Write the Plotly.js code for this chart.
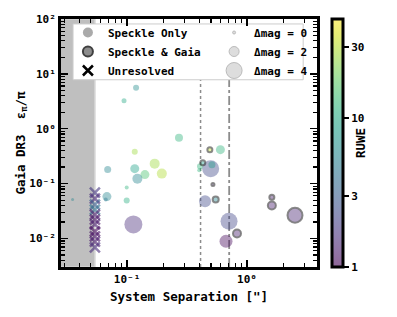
<!DOCTYPE html>
<html><head><meta charset="utf-8">
<script src="https://cdn.plot.ly/plotly-3.0.1.min.js"></script>
<style>html,body{margin:0;padding:0;background:#fff}#chart{width:397px;height:317px}</style>
</head><body><div id="chart"></div>
<script>
// ---- Speckle-only companions ----
const soSep  = [0.119, 0.0944, 0.116, 0.271, 0.069, 0.116, 0.170, 0.195, 0.141, 0.122, 0.0994, 0.0994, 0.068, 0.0665, 0.113, 0.0352, 0.60, 0.406, 0.40, 0.498, 0.51, 0.447, 0.708, 0.668];
const soErr  = [5.56, 3.23, 0.382, 0.686, 0.18, 0.187, 0.231, 0.152, 0.146, 0.123, 0.0846, 0.049, 0.058, 0.0512, 0.018, 0.0512, 0.415, 0.206, 0.175, 0.187, 0.221, 0.0477, 0.0206, 0.0089];
const soRuwe = [6.3, 10, 26, 12, 5.6, 9, 26, 29, 15, 5.6, 12, 11, 5.6, 4.6, 1.6, 5.6, 12, 12, 12, 2.3, 8, 2.3, 2.2, 1.08];
const soDmag = [0.86, 0.57, 0.86, 1.43, 1.14, 1.71, 2.0, 2.0, 1.71, 2.0, 0.29, 0.86, 1.71, 0.29, 3.6, 0.0, 1.71, 0.86, 0.29, 3.4, 1.14, 2.4, 3.4, 2.6];

// ---- Speckle & Gaia companions ----
const sgSep  = [0.49, 0.428, 0.52, 0.548, 0.825, 1.61, 1.61, 2.51];
const sgErr  = [0.415, 0.241, 0.096, 0.0512, 0.0123, 0.0564, 0.0398, 0.0265];
const sgRuwe = [32, 8, 1.5, 5.6, 1.35, 1.35, 1.35, 1.45];
const sgDmag = [0.57, 0.57, 0.0, 0.86, 1.43, 0.57, 1.43, 3.0];

// ---- Unresolved ----
const unSep  = [0.054, 0.054, 0.054, 0.054, 0.054, 0.054, 0.054, 0.054, 0.054, 0.054, 0.054];
const unErr  = [0.0686, 0.0534, 0.0415, 0.0337, 0.0273, 0.0221, 0.018, 0.0134, 0.0109, 0.0088, 0.00686];
const unRuwe = [1.8, 1.5, 3.0, 4.0, 1.3, 1.2, 1.3, 1.1, 1.2, 1.3, 1.6];

// ---- Reference lines / limits ----
const resolutionLimit = 0.054;
const refLineSeps = [0.41, 0.71];
const ruweMax = 46.5;

// ---- Legend / ticks ----
const dmagKey = [0, 2, 4];
const cbMajor = [1, 3, 10, 30];
const cbMinor = [2, 4, 5, 6, 7, 8, 9, 20, 40];
const xTickVals = [0.1, 1];
const xTickText = ['10⁻¹', '10⁰'];
const yTickVals = [0.01, 0.1, 1, 10, 100];
const yTickText = ['10⁻²', '10⁻¹', '10⁰', '10¹', '10²'];

const xRange = [-1.55, 0.583];
const yRange = [-2.52, 2];

const viridis = ['#440154','#48186a','#472d7b','#424086','#3b528b','#33638d','#2c728e','#26828e','#21918c','#1fa088','#28ae80','#3fbc73','#5ec962','#84d44b','#addc30','#d8e219','#fde725'];
const alpha = 0.6;
const cscale = viridis.map((c, i) => {
  const r = parseInt(c.slice(1,3),16), g = parseInt(c.slice(3,5),16), b = parseInt(c.slice(5,7),16);
  return [i/(viridis.length-1), `rgba(${r},${g},${b},${alpha})`];
});
const cmin = 0, cmax = Math.log10(ruweMax);

function sizeOf(dm) { // marker diameter scale for delta-mag
  return dm <= 2 ? 3 + dm * 3.5 : 10 + (dm - 2) * 5;
}
const lg = v => v.map(Math.log10);

const minorTicks = (lo, hi) => { const t = []; for (let k = lo; k <= hi; k++) for (let d = 2; d <= 9; d++) t.push(d * Math.pow(10, k)); return t; };

const cbBase = { x:1.058, xanchor:'left', xpad:0, y:0.5, yanchor:'middle', len:1, lenmode:'fraction', ypad:0,
  thickness:11, outlinewidth:3, outlinecolor:'black', tickmode:'array', ticks:'outside', tickcolor:'black' };

const traces = [
  { type:'scatter', mode:'markers', x: [], y: [], showlegend:false, hoverinfo:'skip',
    marker:{ color: [], colorscale: cscale, cmin, cmax, showscale:true,
      colorbar: Object.assign({}, cbBase, { tickvals: lg(cbMinor), ticklen:3, tickwidth:1.2, showticklabels:false }) } },
  { type:'scatter', mode:'markers', x: soSep, y: soErr, showlegend:false, hoverinfo:'skip',
    marker:{ size: soDmag.map(sizeOf), color: lg(soRuwe), colorscale: cscale, cmin, cmax, line:{width:0},
      showscale:true,
      colorbar: Object.assign({}, cbBase, { tickvals: lg(cbMajor), ticktext: cbMajor.map(String),
        ticklen:5, tickwidth:2, tickfont:{size:11},
        title:{ text:'RUWE', side:'right', font:{size:12.5} } }) } },
  { type:'scatter', mode:'markers', x: sgSep, y: sgErr, showlegend:false, hoverinfo:'skip',
    marker:{ size: sgDmag.map(sizeOf), color: lg(sgRuwe), colorscale: cscale, cmin, cmax, showscale:false,
      line:{ width:2, color:'rgba(60,60,60,0.85)' } } },
  { type:'scatter', mode:'markers', x: unSep, y: unErr, showlegend:false, hoverinfo:'skip',
    marker:{ symbol:'x-thin', size:10, color: lg(unRuwe), colorscale: cscale, cmin, cmax, showscale:false,
      line:{ width:2.5, color: lg(unRuwe), colorscale: cscale, cmin, cmax } } },
  // legend entries
  { type:'scatter', mode:'markers', x:[null], y:[null], name:'Speckle Only', legend:'legend',
    marker:{ size:10, color:'#aaaaaa' } },
  { type:'scatter', mode:'markers', x:[null], y:[null], name:'Speckle & Gaia', legend:'legend',
    marker:{ size:10, color:'#8c8c8c', line:{width:2, color:'#404040'} } },
  { type:'scatter', mode:'markers', x:[null], y:[null], name:'Unresolved', legend:'legend',
    marker:{ symbol:'x-thin', size:10, line:{width:2.5, color:'black'} } },
];
dmagKey.forEach(dm => traces.push({ type:'scatter', mode:'markers', x:[null], y:[null], name:'Δmag = ' + dm, legend:'legend2',
  marker:{ size: sizeOf(dm), color:'#dddddd', line:{width:1, color:'#bbbbbb'} } }));

const axisCommon = { type:'log', showline:true, linewidth:3, linecolor:'black', mirror:'allticks',
  ticks:'inside', ticklen:7, tickwidth:1.5, tickcolor:'black', showgrid:false, zeroline:false,
  tickmode:'array', tickfont:{size:11} };

const boxX0 = 0.047, boxX1 = 0.946, boxY0 = 0.755, boxY1 = 0.98;

const layout = {
  width:397, height:317,
  margin:{ l:61, r:80, t:19, b:50 },
  paper_bgcolor:'white', plot_bgcolor:'white',
  font:{ family:'DejaVu Sans Mono', size:11, color:'black', weight:'bold' },
  xaxis: Object.assign({}, axisCommon, { range:xRange, tickvals:xTickVals, ticktext:xTickText,
    minor:{ ticks:'inside', ticklen:4, tickwidth:1.2, tickcolor:'black', tickmode:'array', tickvals:minorTicks(-2, 0), showgrid:false },
    title:{ text:'System Separation ["]', font:{size:12.5}, standoff:8 } }),
  yaxis: Object.assign({}, axisCommon, { range:yRange, tickvals:yTickVals, ticktext:yTickText,
    minor:{ ticks:'inside', ticklen:4, tickwidth:1.2, tickcolor:'black', tickmode:'array', tickvals:minorTicks(-3, 1), showgrid:false },
    title:{ text:'Gaia DR3  ε<sub>π</sub>/π', font:{size:12.5}, standoff:1 } }),
  legend:{ x:0.027, xanchor:'left', y:1.004, yanchor:'top', bgcolor:'rgba(0,0,0,0)', borderwidth:0, itemsizing:'trace', font:{size:11} },
  legend2:{ x:0.598, xanchor:'left', y:1.004, yanchor:'top', bgcolor:'rgba(0,0,0,0)', borderwidth:0, itemsizing:'trace', font:{size:11} },
  shapes:[
    { type:'rect', xref:'x', yref:'paper', x0:Math.pow(10, xRange[0]) * 0.5, x1:resolutionLimit, y0:0, y1:1,
      fillcolor:'#bfbfbf', line:{width:1.5, color:'#d4d4d4'}, layer:'below' },
    { type:'line', xref:'x', yref:'paper', x0:refLineSeps[0], x1:refLineSeps[0], y0:0, y1:boxY0,
      line:{ color:'#8c8c8c', width:1.5, dash:'dot' }, layer:'below' },
    { type:'line', xref:'x', yref:'paper', x0:refLineSeps[1], x1:refLineSeps[1], y0:0, y1:boxY0,
      line:{ color:'#8c8c8c', width:1.8, dash:'dashdot' }, layer:'below' },
    { type:'rect', xref:'paper', yref:'paper', x0:boxX0, x1:boxX1, y0:boxY0, y1:boxY1,
      fillcolor:'white', line:{ width:1, color:'#cccccc' }, layer:'below' }
  ]
};

Plotly.newPlot('chart', traces, layout, { displayModeBar:false, staticPlot:true });
</script></body></html>
